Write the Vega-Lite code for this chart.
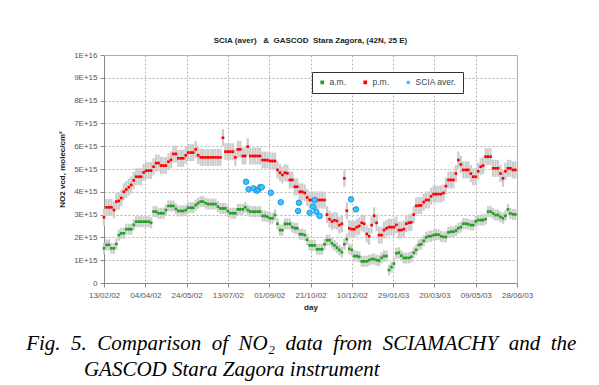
{
"$schema": "https://vega.github.io/schema/vega-lite/v6.json",
"background": "white",
"padding": {"left": 26, "top": 36, "right": 5, "bottom": 5},
"datasets": {
"g": [
{"d":"2002-02-13","am":1.52,"pm":2.88},
{"d":"2002-02-16","am":1.67,"pm":3.32},
{"d":"2002-02-19","am":1.67,"pm":3.32},
{"d":"2002-02-22","am":1.52,"pm":3.32},
{"d":"2002-02-25","am":1.52,"pm":3.2},
{"d":"2002-02-28","am":1.71,"pm":3.57},
{"d":"2002-03-03","am":2.1,"pm":3.6},
{"d":"2002-03-06","am":2.18,"pm":3.73},
{"d":"2002-03-09","am":2.18,"pm":4.0},
{"d":"2002-03-12","am":2.36,"pm":4.1},
{"d":"2002-03-15","am":2.36,"pm":4.2},
{"d":"2002-03-18","am":2.36,"pm":4.3},
{"d":"2002-03-21","am":2.55,"pm":4.5},
{"d":"2002-03-24","am":2.69,"pm":4.66},
{"d":"2002-03-27","am":2.69,"pm":4.66},
{"d":"2002-03-30","am":2.69,"pm":4.66},
{"d":"2002-04-02","am":2.69,"pm":4.85},
{"d":"2002-04-05","am":2.69,"pm":4.93},
{"d":"2002-04-08","am":2.69,"pm":4.93},
{"d":"2002-04-11","am":2.64,"pm":4.93},
{"d":"2002-04-14","am":3.13,"pm":5.1},
{"d":"2002-04-17","am":3.13,"pm":5.26},
{"d":"2002-04-20","am":3.06,"pm":5.26},
{"d":"2002-04-23","am":3.06,"pm":5.15},
{"d":"2002-04-26","am":3.06,"pm":5.15},
{"d":"2002-04-29","am":3.2,"pm":5.15},
{"d":"2002-05-02","am":3.38,"pm":5.32},
{"d":"2002-05-05","am":3.38,"pm":5.4},
{"d":"2002-05-08","am":3.38,"pm":5.66},
{"d":"2002-05-11","am":3.25,"pm":5.66},
{"d":"2002-05-14","am":3.16,"pm":5.47},
{"d":"2002-05-17","am":3.16,"pm":5.47},
{"d":"2002-05-20","am":3.16,"pm":5.47},
{"d":"2002-05-23","am":3.2,"pm":5.6},
{"d":"2002-05-26","am":3.3,"pm":5.72},
{"d":"2002-05-29","am":3.3,"pm":5.72},
{"d":"2002-06-01","am":3.3,"pm":5.72},
{"d":"2002-06-04","am":3.42,"pm":5.86},
{"d":"2002-06-07","am":3.5,"pm":5.6},
{"d":"2002-06-10","am":3.57,"pm":5.51},
{"d":"2002-06-13","am":3.57,"pm":5.51},
{"d":"2002-06-16","am":3.5,"pm":5.51},
{"d":"2002-06-19","am":3.46,"pm":5.51},
{"d":"2002-06-22","am":3.46,"pm":5.51},
{"d":"2002-06-25","am":3.46,"pm":5.51},
{"d":"2002-06-28","am":3.46,"pm":5.51},
{"d":"2002-07-01","am":3.35,"pm":5.51},
{"d":"2002-07-04","am":3.27,"pm":5.51},
{"d":"2002-07-07","am":3.27,"pm":6.37},
{"d":"2002-07-10","am":3.27,"pm":5.76},
{"d":"2002-07-13","am":3.15,"pm":5.76},
{"d":"2002-07-16","am":3.06,"pm":5.76},
{"d":"2002-07-19","am":3.06,"pm":5.76},
{"d":"2002-07-22","am":3.06,"pm":5.51},
{"d":"2002-07-25","am":3.23,"pm":5.86},
{"d":"2002-07-28","am":3.23,"pm":5.86},
{"d":"2002-07-31","am":3.23,"pm":5.57},
{"d":"2002-08-03","am":3.32,"pm":5.57},
{"d":"2002-08-06","am":3.2,"pm":5.98},
{"d":"2002-08-09","am":3.13,"pm":5.57},
{"d":"2002-08-12","am":3.13,"pm":5.57},
{"d":"2002-08-15","am":3.13,"pm":5.57},
{"d":"2002-08-18","am":3.13,"pm":5.57},
{"d":"2002-08-21","am":3.13,"pm":5.57},
{"d":"2002-08-24","am":2.94,"pm":5.39},
{"d":"2002-08-27","am":2.94,"pm":5.39},
{"d":"2002-08-30","am":2.9,"pm":5.39},
{"d":"2002-09-02","am":2.84,"pm":5.35},
{"d":"2002-09-05","am":2.84,"pm":5.35},
{"d":"2002-09-08","am":2.98,"pm":5.35},
{"d":"2002-09-11","am":2.6,"pm":4.96},
{"d":"2002-09-14","am":2.32,"pm":4.84},
{"d":"2002-09-17","am":2.32,"pm":4.74},
{"d":"2002-09-20","am":2.59,"pm":4.84},
{"d":"2002-09-23","am":2.59,"pm":4.81},
{"d":"2002-09-26","am":2.59,"pm":4.52},
{"d":"2002-09-29","am":2.45,"pm":4.52},
{"d":"2002-10-02","am":2.4,"pm":4.22},
{"d":"2002-10-05","am":2.4,"pm":4.22},
{"d":"2002-10-08","am":2.14,"pm":4.0},
{"d":"2002-10-11","am":2.14,"pm":4.0},
{"d":"2002-10-14","am":2.1,"pm":3.95},
{"d":"2002-10-17","am":1.9,"pm":3.75},
{"d":"2002-10-20","am":1.65,"pm":3.64},
{"d":"2002-10-23","am":1.65,"pm":3.64},
{"d":"2002-10-26","am":1.65,"pm":3.64},
{"d":"2002-10-29","am":1.48,"pm":3.64},
{"d":"2002-11-01","am":1.48,"pm":3.64},
{"d":"2002-11-04","am":1.48,"pm":3.64},
{"d":"2002-11-07","am":1.7,"pm":3.64},
{"d":"2002-11-10","am":1.88,"pm":3.0},
{"d":"2002-11-13","am":1.88,"pm":2.8},
{"d":"2002-11-16","am":1.74,"pm":2.7},
{"d":"2002-11-19","am":1.65,"pm":2.75},
{"d":"2002-11-22","am":1.55,"pm":2.72},
{"d":"2002-11-25","am":1.45,"pm":2.54},
{"d":"2002-11-28","am":1.35,"pm":2.6},
{"d":"2002-12-01","am":1.7,"pm":4.59},
{"d":"2002-12-04","am":1.92,"pm":3.17},
{"d":"2002-12-07","am":1.5,"pm":2.4},
{"d":"2002-12-10","am":1.45,"pm":2.36},
{"d":"2002-12-13","am":1.18,"pm":2.36},
{"d":"2002-12-16","am":1.18,"pm":2.45},
{"d":"2002-12-19","am":1.15,"pm":2.5},
{"d":"2002-12-22","am":0.95,"pm":2.64},
{"d":"2002-12-25","am":0.95,"pm":2.6},
{"d":"2002-12-28","am":0.95,"pm":2.15},
{"d":"2002-12-31","am":1.0,"pm":2.05},
{"d":"2003-01-03","am":1.05,"pm":2.54},
{"d":"2003-01-06","am":1.05,"pm":2.95},
{"d":"2003-01-09","am":1.0,"pm":2.64},
{"d":"2003-01-12","am":0.98,"pm":2.1},
{"d":"2003-01-15","am":1.1,"pm":2.1},
{"d":"2003-01-18","am":1.18,"pm":2.32},
{"d":"2003-01-21","am":1.18,"pm":2.4},
{"d":"2003-01-24","am":0.57,"pm":2.45},
{"d":"2003-01-27","am":0.7,"pm":2.45},
{"d":"2003-01-30","am":0.85,"pm":2.45},
{"d":"2003-02-02","am":1.3,"pm":2.55},
{"d":"2003-02-05","am":1.33,"pm":2.32},
{"d":"2003-02-08","am":1.2,"pm":2.32},
{"d":"2003-02-11","am":1.1,"pm":2.36},
{"d":"2003-02-14","am":1.1,"pm":2.6},
{"d":"2003-02-17","am":1.1,"pm":2.64},
{"d":"2003-02-20","am":1.15,"pm":2.66},
{"d":"2003-02-23","am":1.33,"pm":3.0},
{"d":"2003-02-26","am":1.45,"pm":3.38},
{"d":"2003-03-01","am":1.67,"pm":3.4},
{"d":"2003-03-04","am":1.7,"pm":3.4},
{"d":"2003-03-07","am":1.85,"pm":3.55},
{"d":"2003-03-10","am":2.0,"pm":3.64},
{"d":"2003-03-13","am":2.05,"pm":3.64},
{"d":"2003-03-16","am":2.05,"pm":3.8},
{"d":"2003-03-19","am":2.1,"pm":3.9},
{"d":"2003-03-22","am":2.12,"pm":3.9},
{"d":"2003-03-25","am":2.12,"pm":3.9},
{"d":"2003-03-28","am":2.05,"pm":3.9},
{"d":"2003-03-31","am":2.02,"pm":3.95},
{"d":"2003-04-03","am":2.02,"pm":4.25},
{"d":"2003-04-06","am":2.22,"pm":4.52},
{"d":"2003-04-09","am":2.25,"pm":4.52},
{"d":"2003-04-12","am":2.25,"pm":4.52},
{"d":"2003-04-15","am":2.3,"pm":4.8},
{"d":"2003-04-18","am":2.4,"pm":5.39},
{"d":"2003-04-21","am":2.45,"pm":5.2},
{"d":"2003-04-24","am":2.6,"pm":4.96},
{"d":"2003-04-27","am":2.6,"pm":4.96},
{"d":"2003-04-30","am":2.58,"pm":4.96},
{"d":"2003-05-03","am":2.54,"pm":4.8},
{"d":"2003-05-06","am":2.54,"pm":4.66},
{"d":"2003-05-09","am":2.7,"pm":4.66},
{"d":"2003-05-12","am":2.76,"pm":4.9},
{"d":"2003-05-15","am":2.76,"pm":5.1},
{"d":"2003-05-18","am":2.76,"pm":5.15},
{"d":"2003-05-21","am":2.8,"pm":5.54},
{"d":"2003-05-24","am":3.13,"pm":5.54},
{"d":"2003-05-27","am":3.13,"pm":5.54},
{"d":"2003-05-30","am":3.05,"pm":5.03},
{"d":"2003-06-02","am":2.98,"pm":5.03},
{"d":"2003-06-05","am":2.98,"pm":5.03},
{"d":"2003-06-08","am":2.9,"pm":4.8},
{"d":"2003-06-11","am":2.84,"pm":4.59},
{"d":"2003-06-14","am":2.95,"pm":4.9},
{"d":"2003-06-17","am":3.23,"pm":5.03},
{"d":"2003-06-20","am":3.05,"pm":5.03},
{"d":"2003-06-23","am":3.01,"pm":4.96},
{"d":"2003-06-26","am":3.01,"pm":4.96}
],
"s": [
{"d":"2002-08-04","v":4.44},
{"d":"2002-08-07","v":4.11},
{"d":"2002-08-13","v":4.15},
{"d":"2002-08-17","v":4.05},
{"d":"2002-08-19","v":4.1},
{"d":"2002-08-21","v":4.2},
{"d":"2002-08-23","v":4.2},
{"d":"2002-09-03","v":3.96},
{"d":"2002-09-15","v":3.54},
{"d":"2002-10-06","v":3.16},
{"d":"2002-10-07","v":3.52},
{"d":"2002-10-20","v":3.08},
{"d":"2002-10-24","v":3.35},
{"d":"2002-10-26","v":3.64},
{"d":"2002-10-28","v":3.13},
{"d":"2002-11-01","v":2.94},
{"d":"2002-12-09","v":3.67},
{"d":"2002-12-15","v":3.23}
]
},
"title": {
"text": ["Fig. \u00a05. \u00a0Comparison \u00a0of \u00a0NO\u2082 \u00a0data \u00a0from \u00a0SCIAMACHY \u00a0and \u00a0the", "\u200b\u00a0\u00a0\u00a0\u00a0\u00a0\u00a0\u00a0\u00a0\u00a0\u00a0\u00a0GASCOD Stara Zagora instrument"],
"orient": "bottom", "anchor": "start", "frame": "bounds",
"font": "Liberation Serif", "fontSize": 21, "fontStyle": "italic", "fontWeight": "normal",
"color": "black", "lineHeight": 26, "offset": 21, "dx": -32
},
"vconcat": [{
"width": 413,
"height": 228,
"title": {"text": "SCIA (aver) \u00a0\u00a0&\u00a0\u00a0GASCOD\u00a0\u00a0Stara Zagora, (42N, 25 E)", "font": "Liberation Sans", "fontSize": 8, "fontWeight": "bold", "color": "#222", "anchor": "middle", "offset": 6},
"encoding": {
"x": {"field": "d", "type": "temporal",
"scale": {"type": "utc", "domain": [{"year": 2002, "month": 2, "date": 13, "utc": true}, {"year": 2003, "month": 6, "date": 28, "utc": true}]},
"axis": {"title": "day", "format": "%d/%m/%y", "labelAngle": 0, "labelFlush": false, "labelOverlap": false, "grid": true, "labelPadding": 4,
"values": [
{"year": 2002, "month": 2, "date": 13, "utc": true},
{"year": 2002, "month": 4, "date": 4, "utc": true},
{"year": 2002, "month": 5, "date": 24, "utc": true},
{"year": 2002, "month": 7, "date": 13, "utc": true},
{"year": 2002, "month": 9, "date": 1, "utc": true},
{"year": 2002, "month": 10, "date": 21, "utc": true},
{"year": 2002, "month": 12, "date": 10, "utc": true},
{"year": 2003, "month": 1, "date": 29, "utc": true},
{"year": 2003, "month": 3, "date": 20, "utc": true},
{"year": 2003, "month": 5, "date": 9, "utc": true},
{"year": 2003, "month": 6, "date": 28, "utc": true}
]}}
},
"layer": [
{
"data": {"name": "g"},
"mark": {"type": "rule", "color": "#cccccc", "strokeWidth": 2.2, "yOffset": -5.5, "y2Offset": 5.5},
"encoding": {
"y": {"field": "am", "type": "quantitative", "scale": {"domain": [0, 10], "nice": false},
"axis": {"title": "NO2 vcd, molec/cm\u00b2", "titlePadding": 7, "grid": true, "labelOverlap": false,
"values": [0, 1, 2, 3, 4, 5, 6, 7, 8, 9, 10],
"labelExpr": "datum.value == 0 ? '0' : datum.value == 10 ? '1E+16' : datum.value + 'E+15'"}},
"y2": {"field": "am"}
}
},
{
"data": {"name": "g"},
"mark": {"type": "rule", "color": "#cccccc", "strokeWidth": 2.2, "yOffset": -8.5, "y2Offset": 8.5},
"encoding": {
"y": {"field": "pm", "type": "quantitative",
"axis": {"title": "NO2 vcd, molec/cm\u00b2", "titlePadding": 7, "grid": true, "labelOverlap": false,
"values": [0, 1, 2, 3, 4, 5, 6, 7, 8, 9, 10],
"labelExpr": "datum.value == 0 ? '0' : datum.value == 10 ? '1E+16' : datum.value + 'E+15'"}},
"y2": {"field": "pm"}
}
},
{
"data": {"name": "g"},
"transform": [{"fold": ["am", "pm"], "as": ["k", "v"]}],
"mark": {"type": "point", "filled": true, "opacity": 1, "size": 7},
"encoding": {
"y": {"field": "v", "type": "quantitative",
"axis": {"title": "NO2 vcd, molec/cm\u00b2", "titlePadding": 7, "grid": true, "labelOverlap": false,
"values": [0, 1, 2, 3, 4, 5, 6, 7, 8, 9, 10],
"labelExpr": "datum.value == 0 ? '0' : datum.value == 10 ? '1E+16' : datum.value + 'E+15'"}},
"color": {"field": "k", "type": "nominal",
"scale": {"domain": ["am", "pm", "SCIA aver."], "range": ["#22a022", "#ff0000", "#38c8f8"]},
"legend": {"title": null, "orient": "none", "legendX": 208, "legendY": 17, "direction": "horizontal",
"labelExpr": "datum.label == 'am' ? 'a.m.' : datum.label == 'pm' ? 'p.m.' : datum.label",
"fillColor": "white", "strokeColor": "#333", "padding": 6, "columnPadding": 14, "labelOffset": 3,
"symbolSize": 14, "symbolStrokeWidth": 0,
"labelFont": "Liberation Sans", "labelFontSize": 8.5, "labelColor": "#444"}},
"shape": {"field": "k", "type": "nominal", "scale": {"domain": ["am", "pm", "SCIA aver."], "range": ["square", "square", "circle"]}}
}
},
{
"data": {"name": "s"},
"mark": {"type": "point", "filled": true, "opacity": 1, "size": 30, "stroke": "#1f8fe8", "strokeWidth": 1},
"encoding": {
"y": {"field": "v", "type": "quantitative",
"axis": {"title": "NO2 vcd, molec/cm\u00b2", "titlePadding": 7, "grid": true, "labelOverlap": false,
"values": [0, 1, 2, 3, 4, 5, 6, 7, 8, 9, 10],
"labelExpr": "datum.value == 0 ? '0' : datum.value == 10 ? '1E+16' : datum.value + 'E+15'"}},
"color": {"datum": "SCIA aver.", "type": "nominal"},
"shape": {"datum": "SCIA aver.", "type": "nominal"}
}
}
]
}],
"config": {
"view": {"stroke": "#aaaaaa"},
"axis": {"labelFont": "Liberation Sans", "labelFontSize": 8, "labelColor": "#555",
"titleFont": "Liberation Sans", "titleFontSize": 8, "titleFontWeight": "bold", "titleColor": "#222",
"domainColor": "#888", "tickColor": "#888", "tickSize": 4, "labelPadding": 3,
"grid": true, "gridColor": "#b4b4b4", "gridDash": [2, 2], "gridOpacity": 1, "gridWidth": 1}
}
}
